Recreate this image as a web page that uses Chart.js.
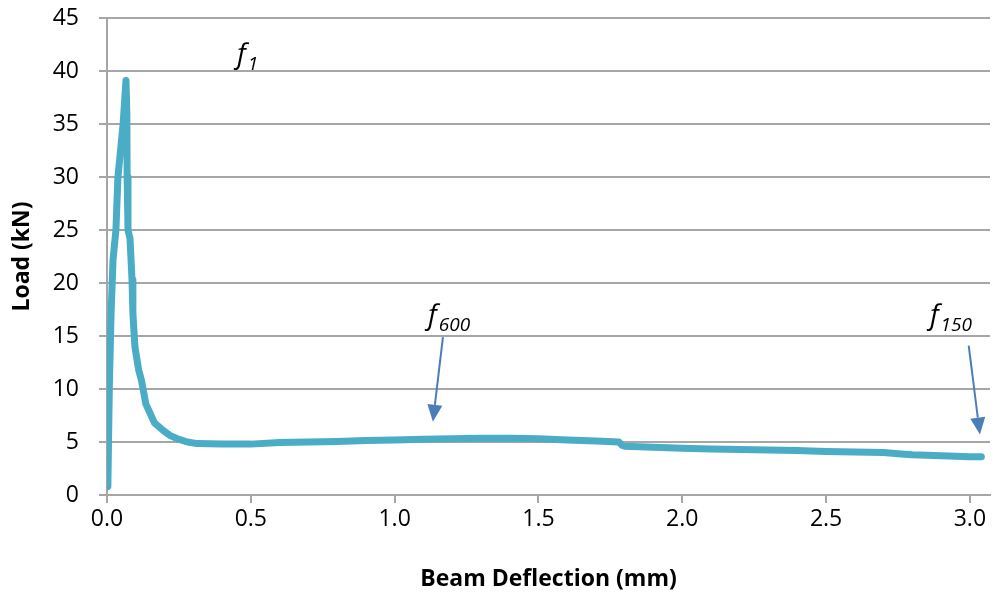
<!DOCTYPE html>
<html>
<head>
<meta charset="utf-8">
<script src="https://cdn.jsdelivr.net/npm/chart.js@4.4.0/dist/chart.umd.min.js"></script>
<style>
  html, body { margin: 0; padding: 0; background: #fff; }
  #wrap { width: 995px; height: 598px; }
</style>
</head>
<body>
<div id="wrap"><canvas id="loadChart"></canvas></div>
<script>
// beam deflection (mm) vs load (kN)
var deflection = [0.003, 0.008, 0.014, 0.021, 0.031, 0.038, 0.047, 0.056, 0.066, 0.069, 0.07, 0.073, 0.08, 0.087, 0.09, 0.097,
    0.11, 0.12, 0.135, 0.145, 0.165, 0.195, 0.22, 0.245, 0.28, 0.313, 0.4, 0.5, 0.6, 0.7, 0.8, 0.9,
    1.0, 1.1, 1.2, 1.3, 1.4, 1.5, 1.6, 1.7, 1.78, 1.79, 1.8, 1.9, 2.0, 2.1, 2.2, 2.3, 2.4, 2.5,
    2.6, 2.7, 2.75, 2.8, 2.9, 3.0, 3.04];
var load = [0.8, 10, 17, 22.2, 25, 30, 32.5, 35, 39.1, 36, 30, 25, 24.2, 20.3, 17.2, 14,
    11.8, 10.8, 8.6, 8.0, 6.8, 6.1, 5.6, 5.3, 5.0, 4.85, 4.8, 4.8, 4.95, 5.0, 5.05, 5.15,
    5.2, 5.25, 5.3, 5.35, 5.35, 5.3, 5.2, 5.1, 5.0, 4.7, 4.6, 4.5, 4.4, 4.35, 4.3, 4.25, 4.2, 4.1,
    4.05, 4.0, 3.9, 3.8, 3.7, 3.6, 3.6];

var yTicks = [0, 5, 10, 15, 20, 25, 30, 35, 40, 45];
var xTicks = [0.0, 0.5, 1.0, 1.5, 2.0, 2.5, 3.0];

// annotation labels and arrows, in data units
var labelText = ["1", "600", "150"];
var labelX = [0.452, 1.116, 2.861];
var labelY = [40.8, 16.1, 16.1];
var arrowFromX = [1.168, 2.996];
var arrowFromY = [14.9, 14.1];
var arrowToX = [1.133, 3.035];
var arrowToY = [6.9, 5.7];

var points = [];
for (var i = 0; i < deflection.length; i++) {
    points.push({ x: deflection[i], y: load[i] });
}

var gridGray = "#a6a6a6";
var fontFamily = "'Open Sans', sans-serif";

var annotations = {
    id: "annotations",
    afterDatasetsDraw: function (chart) {
        var ctx = chart.ctx;
        var xs = chart.scales.x;
        var ys = chart.scales.y;
        ctx.save();
        // arrows
        ctx.strokeStyle = "#4a7ebb";
        ctx.fillStyle = "#4a7ebb";
        ctx.lineWidth = 2;
        for (var a = 0; a < arrowFromX.length; a++) {
            var x1 = xs.getPixelForValue(arrowFromX[a]);
            var y1 = ys.getPixelForValue(arrowFromY[a]);
            var x2 = xs.getPixelForValue(arrowToX[a]);
            var y2 = ys.getPixelForValue(arrowToY[a]);
            var ang = Math.atan2(y2 - y1, x2 - x1);
            var headLen = 17, headW = 7.5;
            var bx = x2 - headLen * Math.cos(ang);
            var by = y2 - headLen * Math.sin(ang);
            ctx.beginPath();
            ctx.moveTo(x1, y1);
            ctx.lineTo(bx, by);
            ctx.stroke();
            ctx.beginPath();
            ctx.moveTo(x2, y2);
            ctx.lineTo(bx + headW * Math.sin(ang), by - headW * Math.cos(ang));
            ctx.lineTo(bx - headW * Math.sin(ang), by + headW * Math.cos(ang));
            ctx.closePath();
            ctx.fill();
        }
        // f labels with subscripts
        ctx.fillStyle = "#000";
        ctx.textBaseline = "alphabetic";
        ctx.textAlign = "left";
        for (var k = 0; k < labelText.length; k++) {
            var px = xs.getPixelForValue(labelX[k]);
            var py = ys.getPixelForValue(labelY[k]);
            ctx.font = "italic 28px " + fontFamily;
            ctx.fillText("f", px, py);
            var w = ctx.measureText("f").width;
            ctx.font = "italic 19px " + fontFamily;
            ctx.fillText(labelText[k], px + w + 2, py + 7);
        }
        ctx.restore();
    }
};

var ctx = document.getElementById("loadChart");

var chart = new Chart(ctx, {
    type: "scatter",
    data: {
        datasets: [
            {
                label: "Load",
                data: points,
                showLine: true,
                borderColor: "#4bacc6",
                backgroundColor: "#4bacc6",
                borderWidth: 7,
                borderCapStyle: "round",
                borderJoinStyle: "round",
                pointRadius: 0,
                tension: 0
            }
        ]
    },
    options: {
        responsive: true,
        maintainAspectRatio: false,
        animation: false,
        layout: { padding: { top: 18, right: 5, left: 0, bottom: 0 } },
        plugins: {
            legend: { display: false },
            tooltip: { enabled: false }
        },
        scales: {
            x: {
                type: "linear",
                min: 0,
                max: 3.07,
                afterBuildTicks: function (scale) {
                    scale.ticks = xTicks.map(function (v) { return { value: v }; });
                },
                afterFit: function (scale) {
                    scale.height = 103;
                    scale.paddingLeft = 0;
                    scale.paddingRight = 0;
                },
                grid: { drawOnChartArea: false, drawTicks: true, tickLength: 8, color: gridGray, lineWidth: 2 },
                border: { color: gridGray, width: 2 },
                ticks: {
                    color: "#000",
                    padding: 3,
                    maxRotation: 0,
                    font: { family: fontFamily, size: 23 },
                    callback: function (v) { return Number(v).toFixed(1); }
                },
                title: {
                    display: true,
                    text: "Beam Deflection (mm)",
                    color: "#000",
                    font: { family: fontFamily, size: 23, weight: "bold" },
                    padding: { top: 0, bottom: 5 }
                }
            },
            y: {
                min: 0,
                max: 45,
                afterBuildTicks: function (scale) {
                    scale.ticks = yTicks.map(function (v) { return { value: v }; });
                },
                afterFit: function (scale) {
                    scale.width = 107;
                    scale.paddingTop = 0;
                    scale.paddingBottom = 0;
                },
                grid: { color: gridGray, lineWidth: 2, tickLength: 8 },
                border: { color: gridGray, width: 2 },
                ticks: {
                    color: "#000",
                    padding: 20,
                    font: { family: fontFamily, size: 23 }
                },
                title: {
                    display: true,
                    text: "Load (kN)",
                    color: "#000",
                    font: { family: fontFamily, size: 23, weight: "bold" },
                    padding: { top: 9, bottom: 0 }
                }
            }
        }
    },
    plugins: [annotations]
});
</script>
</body>
</html>
